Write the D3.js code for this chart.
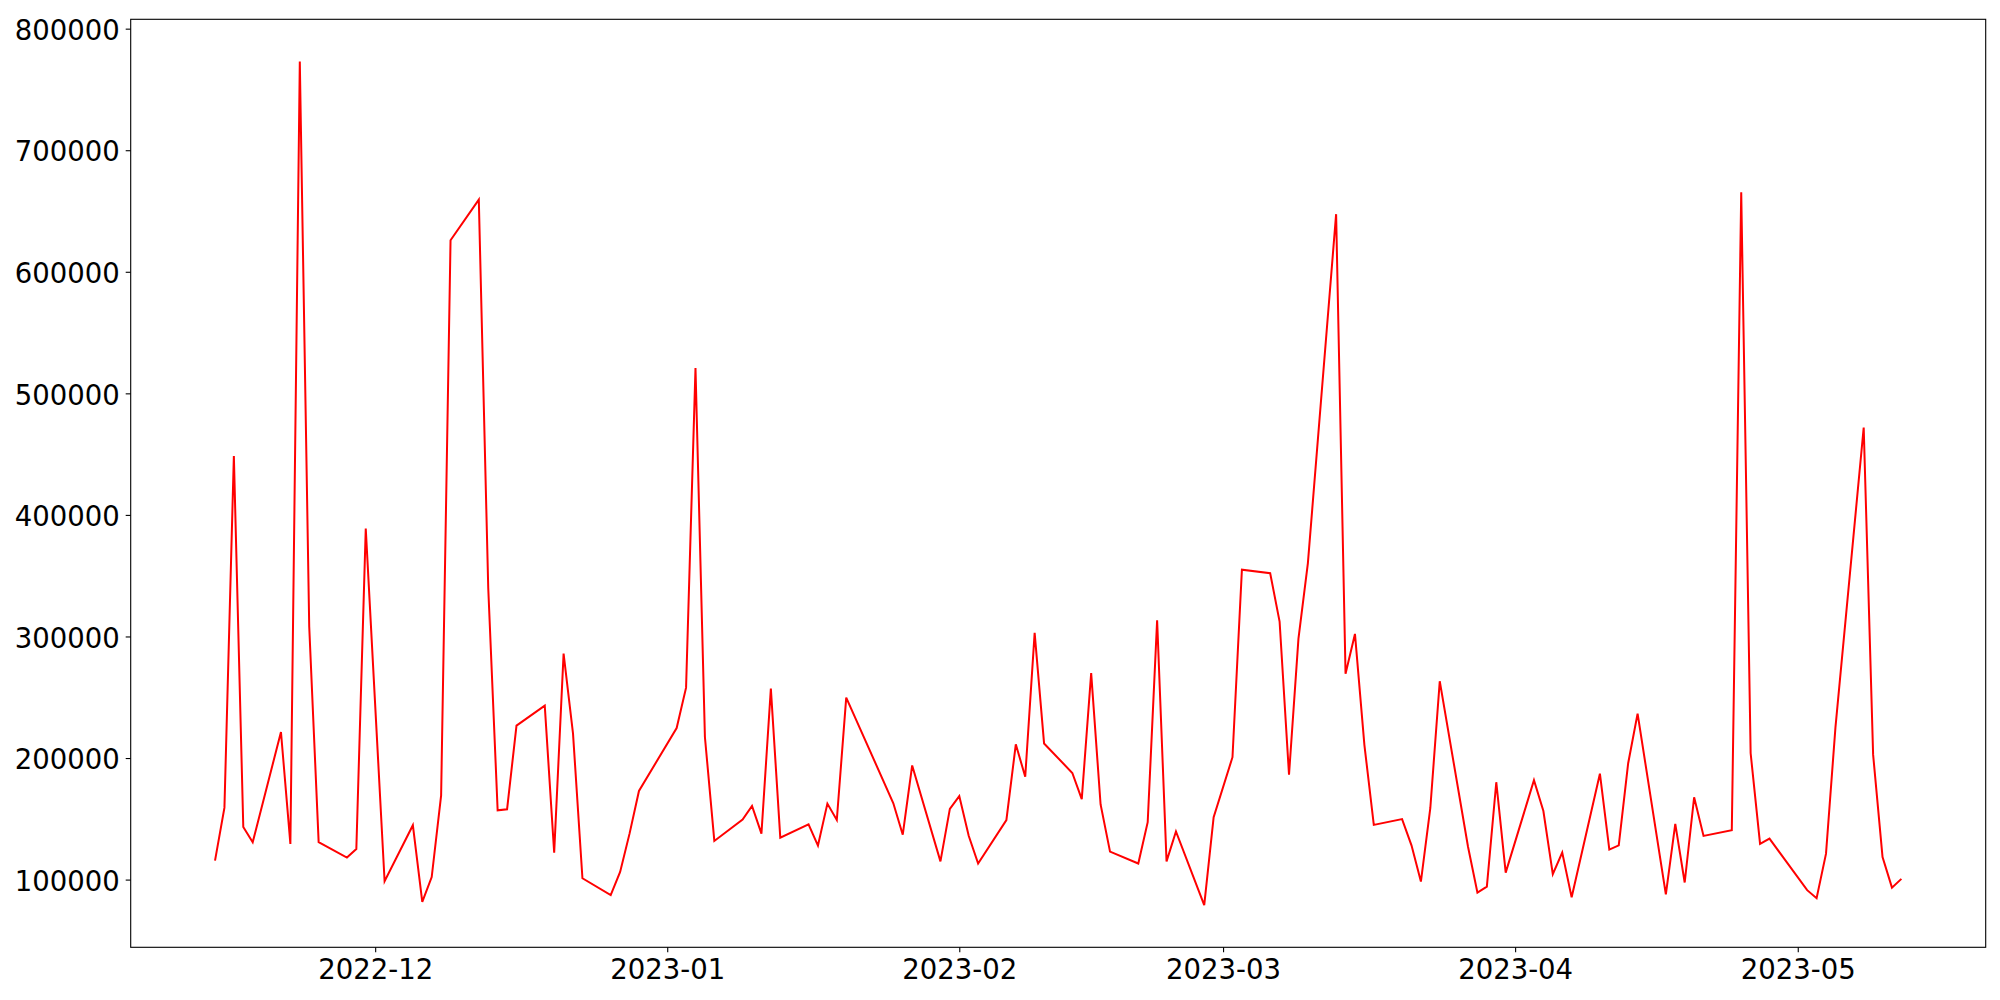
<!DOCTYPE html>
<html lang="en">
<head>
  <meta charset="UTF-8">
  <title>Daily values</title>
  <script src="https://d3js.org/d3.v7.min.js"></script>
  <style>
    body { margin: 0; background: #fff; }
    .tick text { font-family: "DejaVu Sans", sans-serif; font-size: 27.5px; fill: #000; }
  </style>
</head>
<body>
  <div id="chart"></div>
  <script>
    const dates = [
      "2022-11-14", "2022-11-15", "2022-11-16", "2022-11-17", "2022-11-18",
      "2022-11-21", "2022-11-22", "2022-11-23", "2022-11-24", "2022-11-25",
      "2022-11-28", "2022-11-29", "2022-11-30", "2022-12-02",
      "2022-12-05", "2022-12-06", "2022-12-07", "2022-12-08", "2022-12-09",
      "2022-12-12", "2022-12-13", "2022-12-14", "2022-12-15", "2022-12-16",
      "2022-12-19", "2022-12-20", "2022-12-21", "2022-12-22", "2022-12-23",
      "2022-12-26", "2022-12-27", "2022-12-28", "2022-12-29",
      "2023-01-02", "2023-01-03", "2023-01-04", "2023-01-05", "2023-01-06",
      "2023-01-09", "2023-01-10", "2023-01-11", "2023-01-12", "2023-01-13",
      "2023-01-16", "2023-01-17", "2023-01-18", "2023-01-19", "2023-01-20",
      "2023-01-25", "2023-01-26", "2023-01-27",
      "2023-01-30", "2023-01-31", "2023-02-01", "2023-02-02", "2023-02-03",
      "2023-02-06", "2023-02-07", "2023-02-08", "2023-02-09", "2023-02-10",
      "2023-02-13", "2023-02-14", "2023-02-15", "2023-02-16", "2023-02-17",
      "2023-02-20", "2023-02-21", "2023-02-22", "2023-02-23", "2023-02-24",
      "2023-02-27", "2023-02-28", "2023-03-02", "2023-03-03",
      "2023-03-06", "2023-03-07", "2023-03-08", "2023-03-09", "2023-03-10",
      "2023-03-13", "2023-03-14", "2023-03-15", "2023-03-16", "2023-03-17",
      "2023-03-20", "2023-03-21", "2023-03-22", "2023-03-23", "2023-03-24",
      "2023-03-27", "2023-03-28", "2023-03-29", "2023-03-30", "2023-03-31",
      "2023-04-03", "2023-04-04", "2023-04-05", "2023-04-06", "2023-04-07",
      "2023-04-10", "2023-04-11", "2023-04-12", "2023-04-13", "2023-04-14",
      "2023-04-17", "2023-04-18", "2023-04-19", "2023-04-20", "2023-04-21",
      "2023-04-24", "2023-04-25", "2023-04-26", "2023-04-27", "2023-04-28",
      "2023-05-02", "2023-05-03", "2023-05-04", "2023-05-05",
      "2023-05-08", "2023-05-09", "2023-05-10", "2023-05-11", "2023-05-12"
    ];

    const values = [
      115600, 159200, 448400, 143300, 130700,
      221400, 129300, 773000, 308000, 130900,
      118100, 125200, 388700, 98600,
      144700, 81600, 102100, 169300, 625900,
      659300, 340000, 157000, 157800, 226700,
      243100, 122200, 285900, 220100, 101100,
      87300, 106300, 137800, 172900,
      224700, 257900, 520900, 217300, 131800,
      149300, 160500, 137800, 257100, 134500,
      145500, 128000, 162500, 149000, 249700,
      162800, 136900, 193900,
      115000, 158200, 168700, 136100, 113200,
      148900, 211300, 184600, 303000, 212000,
      187700, 166200, 269800, 161800, 123000,
      113200, 147200, 313400, 115000, 139600,
      79000, 151400, 200700, 354900,
      352000, 312300, 186300, 298000, 360200,
      647400, 269400, 302100, 210900, 145000,
      149800, 128200, 98400, 158900, 263200,
      127000, 89300, 94200, 180100, 105700,
      181800, 156400, 104400, 122200, 85400,
      187100, 124700, 128200, 195700, 236500,
      87800, 145800, 97600, 167700, 135900,
      140600, 665500, 203900, 129400, 133700,
      91300, 84700, 121300, 225000,
      471900, 202800, 118500, 93400, 100600
    ];

    const xTicks = ["2022-12-01", "2023-01-01", "2023-02-01", "2023-03-01", "2023-04-01", "2023-05-01"];
    const yTicks = [100000, 200000, 300000, 400000, 500000, 600000, 700000, 800000];

    const parseDate = d3.timeParse("%Y-%m-%d");
    const data = dates.map((d, i) => ({ date: parseDate(d), value: values[i] }));

    const width = 2000;
    const height = 1000;
    const margin = { top: 19.3, right: 14.3, bottom: 52.7, left: 130.7 };

    const svg = d3.select("#chart")
      .append("svg")
      .attr("width", width)
      .attr("height", height);

    // 5% padding on both axes, like matplotlib's default margins
    const xExt = d3.extent(data, d => d.date.getTime());
    const xPad = (xExt[1] - xExt[0]) * 0.05;
    const xScale = d3.scaleTime()
      .domain([new Date(xExt[0] - xPad), new Date(xExt[1] + xPad)])
      .range([margin.left, width - margin.right]);

    const yExt = d3.extent(data, d => d.value);
    const yPad = (yExt[1] - yExt[0]) * 0.05;
    const yScale = d3.scaleLinear()
      .domain([yExt[0] - yPad, yExt[1] + yPad])
      .range([height - margin.bottom, margin.top]);

    const xAxis = d3.axisBottom(xScale)
      .tickValues(xTicks.map(parseDate))
      .tickFormat(d3.timeFormat("%Y-%m"))
      .tickSize(5)
      .tickPadding(7.5);

    const yAxis = d3.axisLeft(yScale)
      .tickValues(yTicks)
      .tickFormat(d3.format("d"))
      .tickSize(5)
      .tickPadding(6);

    const gx = svg.append("g")
      .attr("transform", `translate(0, ${height - margin.bottom})`)
      .call(xAxis);
    gx.select(".domain").remove();
    gx.selectAll(".tick line").attr("stroke", "#000").attr("stroke-width", 1.1);

    const gy = svg.append("g")
      .attr("transform", `translate(${margin.left}, 0)`)
      .call(yAxis);
    gy.select(".domain").remove();
    gy.selectAll(".tick line").attr("stroke", "#000").attr("stroke-width", 1.1);
    gy.selectAll(".tick text").attr("dy", "0.39em");

    const line = d3.line()
      .x(d => xScale(d.date))
      .y(d => yScale(d.value));

    svg.append("path")
      .datum(data)
      .attr("fill", "none")
      .attr("stroke", "red")
      .attr("stroke-width", 2)
      .attr("stroke-linejoin", "miter")
      .attr("d", line);

    // axes frame
    svg.append("rect")
      .attr("x", margin.left)
      .attr("y", margin.top)
      .attr("width", width - margin.left - margin.right)
      .attr("height", height - margin.top - margin.bottom)
      .attr("fill", "none")
      .attr("stroke", "#000")
      .attr("stroke-width", 1.1);
  </script>
</body>
</html>
